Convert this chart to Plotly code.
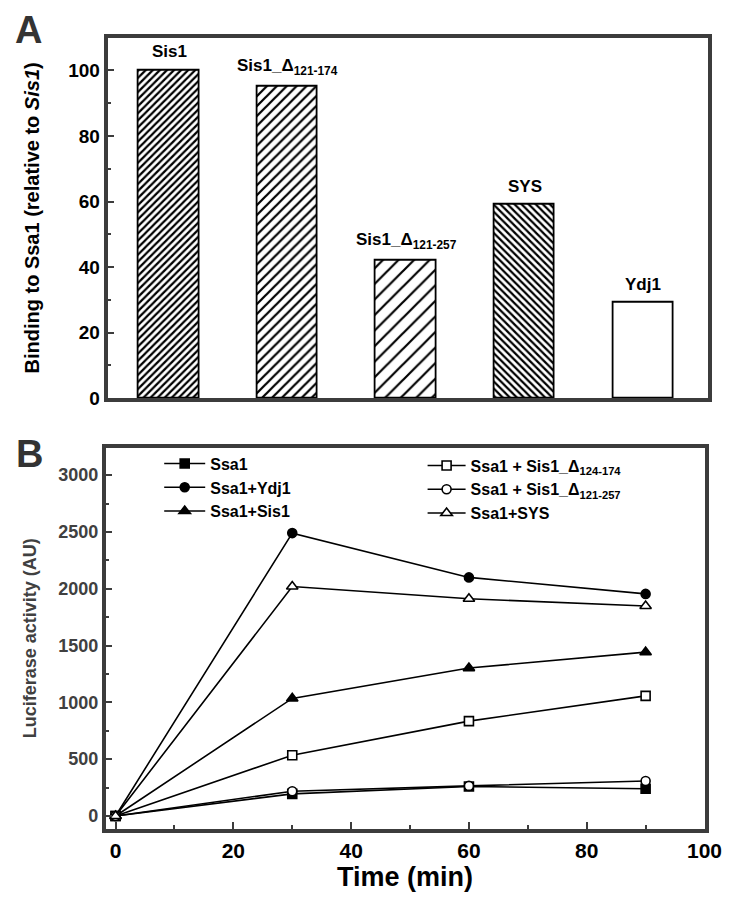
import plotly.graph_objects as go

# ---------- Panel A data ----------
bar_labels = ["Sis1", "Sis1_Δ<sub>121-174</sub>", "Sis1_Δ<sub>121-257</sub>", "SYS", "Ydj1"]
bar_pos = [1, 2, 3, 4, 5]
bar_values = [100, 95, 42, 59, 29]

# ---------- Panel B data ----------
time_min = [0, 30, 60, 90]
ssa1 = [0, 195, 260, 240]
ssa1_ydj1 = [0, 2490, 2100, 1955]
ssa1_sis1 = [0, 1035, 1302, 1442]
ssa1_d124_174 = [0, 535, 835, 1057]
ssa1_d121_257 = [0, 218, 265, 308]
ssa1_sys = [0, 2020, 1912, 1848]

FONT = "Arial, Liberation Sans, sans-serif"
FRAME = "#3c3c3c"
W, H = 735, 899

def px_x(a, b):
    return [a / W, b / W]

def px_y(top, bottom):
    return [1 - bottom / H, 1 - top / H]

fig = go.Figure()

# Bars
pat_shapes = ["/", "/", "/", "\\", ""]
pat_sizes = [5, 7, 11, 5, 8]
pat_sol = [0.45, 0.32, 0.2, 0.45, 0.2]
for i in range(len(bar_values)):
    fig.add_trace(go.Bar(
        x=[bar_pos[i]], y=[bar_values[i]], width=0.51,
        marker=dict(color="white", line=dict(color="black", width=1.8),
                    pattern=dict(shape=pat_shapes[i], size=pat_sizes[i],
                                 solidity=pat_sol[i], fgcolor="black", bgcolor="white",
                                 fgopacity=1)),
        showlegend=False, xaxis="x", yaxis="y"))
    fig.add_annotation(x=bar_pos[i], y=bar_values[i], xref="x", yref="y",
                       text="<b>%s</b>" % bar_labels[i], showarrow=False,
                       yanchor="bottom", yshift=7,
                       font=dict(family=FONT, size=17, color="black"))

# Lines
series = [
    ("Ssa1", ssa1, "square", "legend"),
    ("Ssa1+Ydj1", ssa1_ydj1, "circle", "legend"),
    ("Ssa1+Sis1", ssa1_sis1, "triangle-up", "legend"),
    ("Ssa1 + Sis1_Δ<sub>124-174</sub>", ssa1_d124_174, "square-open", "legend2"),
    ("Ssa1 + Sis1_Δ<sub>121-257</sub>", ssa1_d121_257, "circle-open", "legend2"),
    ("Ssa1+SYS", ssa1_sys, "triangle-up-open", "legend2"),
]
for name, ys, sym, lg in series:
    open_ = sym.endswith("open")
    fig.add_trace(go.Scatter(
        x=time_min, y=ys, mode="lines+markers", name="<b>%s</b>" % name,
        line=dict(color="black", width=1.6),
        marker=dict(symbol=sym.replace("-open", "") if open_ else sym,
                    size=10 if "triangle" in sym else 9,
                    color="white" if open_ else "black",
                    line=dict(color="black", width=1.6)),
        xaxis="x2", yaxis="y2", legend=lg))

axis_common = dict(showline=True, mirror=True, linewidth=3.5, linecolor=FRAME,
                   showgrid=False, zeroline=False, ticks="inside",
                   tickcolor=FRAME, tickwidth=2, ticklen=7)

fig.update_layout(
    width=W, height=H, margin=dict(l=0, r=0, t=0, b=0),
    plot_bgcolor="white", paper_bgcolor="white",
    bargap=0,
    xaxis=dict(domain=px_x(102, 718), range=[0.48, 5.55], showticklabels=False,
               showline=True, mirror=True, linewidth=3.5, linecolor=FRAME,
               showgrid=False, zeroline=False, ticks=""),
    yaxis=dict(domain=px_y(30, 395), range=[0, 110], tickvals=[0, 20, 40, 60, 80, 100],
               minor=dict(tickvals=[10, 30, 50, 70, 90], ticks="inside", ticklen=4,
                          tickwidth=2, tickcolor=FRAME),
               tickfont=dict(family=FONT, size=19, color="black", weight="bold"),
               title=dict(text="<b>Binding to Ssa1 (relative to <i>Sis1</i>)</b>",
                          font=dict(family=FONT, size=20, color="black"), standoff=24),
               **axis_common),
    xaxis2=dict(domain=px_x(100, 714), range=[-1.7, 100], tickvals=[0, 20, 40, 60, 80, 100],
                minor=dict(tickvals=[10, 30, 50, 70, 90], ticks="inside", ticklen=4,
                           tickwidth=2, tickcolor=FRAME),
                tickfont=dict(family=FONT, size=21, color="black", weight="bold"),
                title=dict(text="<b>Time (min)</b>", font=dict(family=FONT, size=27, color="black"),
                           standoff=6),
                anchor="y2", **axis_common),
    yaxis2=dict(domain=px_y(445, 831), range=[-113, 3243],
                tickvals=[0, 500, 1000, 1500, 2000, 2500, 3000],
                minor=dict(tickvals=[250, 750, 1250, 1750, 2250, 2750], ticks="inside",
                           ticklen=4, tickwidth=2, tickcolor=FRAME),
                tickfont=dict(family=FONT, size=18, color="#404040", weight="bold"),
                title=dict(text="<b>Luciferase activity (AU)</b>",
                           font=dict(family=FONT, size=18, color="#404040"), standoff=18),
                anchor="x2", **axis_common),
    legend=dict(x=155 / W, y=1 - 444 / H, xanchor="left", yanchor="top",
                bgcolor="rgba(0,0,0,0)", font=dict(family=FONT, size=16, color="black"),
                tracegroupgap=0, itemwidth=41),
    legend2=dict(x=425 / W, y=1 - 446 / H, xanchor="left", yanchor="top",
                 bgcolor="rgba(0,0,0,0)", font=dict(family=FONT, size=16, color="black"),
                 tracegroupgap=0, itemwidth=38),
)

fig.add_annotation(x=5 / W, y=1 - 22 / H, xref="paper", yref="paper", text="<b>A</b>",
                   showarrow=False, xanchor="left", yanchor="middle",
                   font=dict(family=FONT, size=38, color="#333333"))
fig.add_annotation(x=6 / W, y=1 - 452 / H, xref="paper", yref="paper", text="<b>B</b>",
                   showarrow=False, xanchor="left", yanchor="middle",
                   font=dict(family=FONT, size=38, color="#333333"))

fig.write_html("out.html")
